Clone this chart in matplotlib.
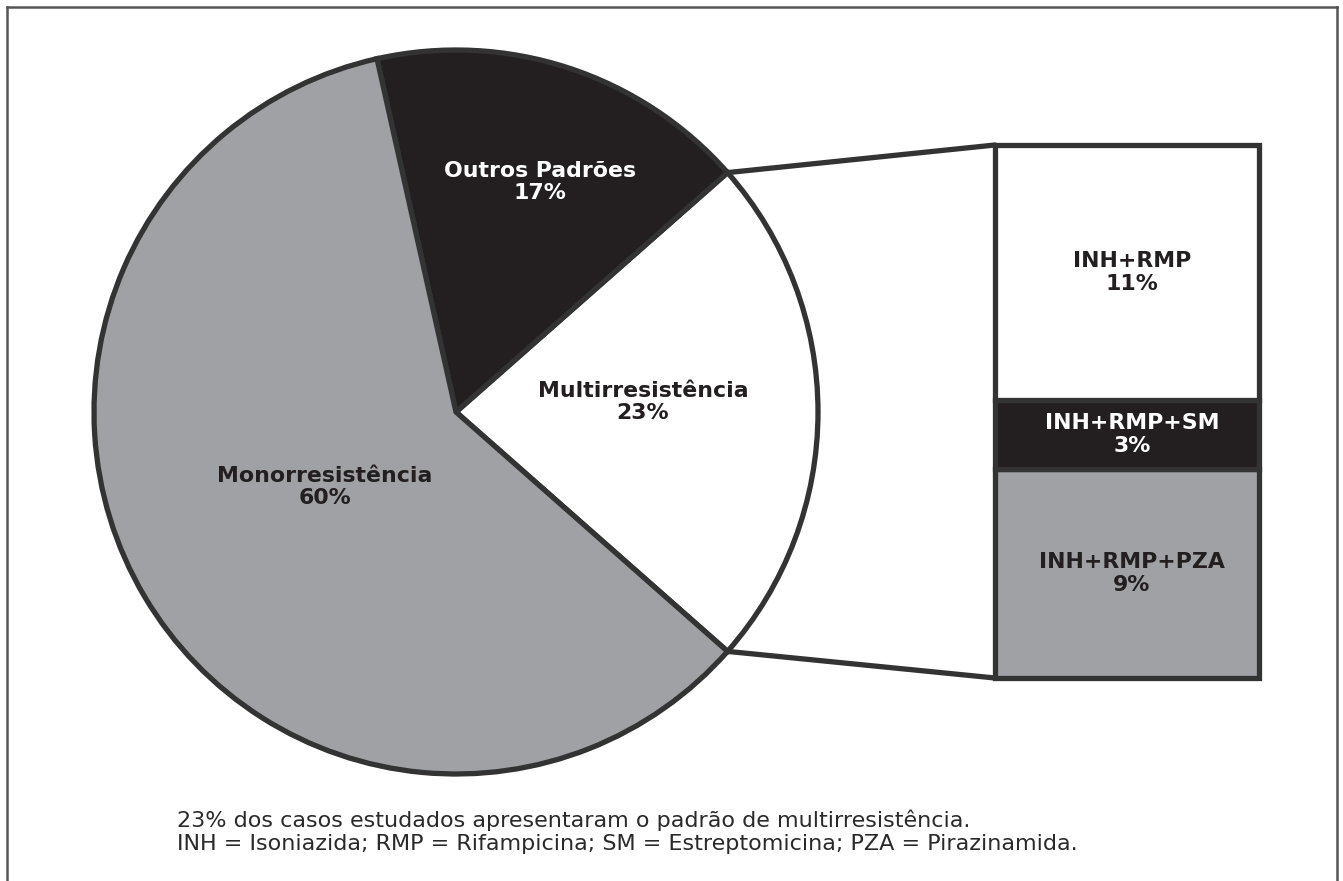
import numpy as np
import matplotlib
matplotlib.use("Agg")
import matplotlib.pyplot as plt

# dados do grafico de pizza
categorias = ["Multirresistência", "Outros Padrões", "Monorresistência"]
valores = [23, 17, 60]
cores_pizza = ["#ffffff", "#231f20", "#9fa1a4"]
cor_texto_pizza = ["#231f20", "#ffffff", "#231f20"]

# detalhamento da multirresistencia (de cima para baixo)
sub_categorias = ["INH+RMP", "INH+RMP+SM", "INH+RMP+PZA"]
sub_valores = [11, 3, 9]
sub_cores = ["#ffffff", "#231f20", "#9fa1a4"]
sub_cor_texto = ["#231f20", "#ffffff", "#231f20"]

legenda = ["23% dos casos estudados apresentaram o padrão de multirresistência.",
           "INH = Isoniazida; RMP = Rifampicina; SM = Estreptomicina; PZA = Pirazinamida."]

W, H = 1343, 881
borda = "#333333"
fonte_rotulo = dict(fontsize=15.8, fontweight="bold", family="DejaVu Sans", linespacing=1.17)

fig = plt.figure(figsize=(W / 100, H / 100), dpi=100)
ax = fig.add_axes([0, 0, 1, 1])

# pizza (coordenadas em pixels, y para cima)
cx, cy, raio = 456, H - 412, 362
inicio = -valores[0] / 100 * 360 / 2
wedges, _ = ax.pie(valores, colors=cores_pizza, startangle=inicio, counterclock=True,
                   center=(cx, cy), radius=raio, frame=True,
                   wedgeprops=dict(edgecolor=borda, linewidth=3.8, joinstyle="miter"))

# rotulos da pizza
pos_rotulos = [(643, 402), (540, 182), (325, 487)]
for cat, v, (px, py), c in zip(categorias, valores, pos_rotulos, cor_texto_pizza):
    ax.text(px, H - py, f"{cat}\n{v}%", ha="center", va="center", color=c, **fonte_rotulo)

# barra empilhada
bx0, bx1 = 995, 1259
topo, base = H - 145, H - 678
escala = (topo - base) / sum(sub_valores)
fundo = base
for cat, v, cor, ct in list(zip(sub_categorias, sub_valores, sub_cores, sub_cor_texto))[::-1]:
    ax.bar((bx0 + bx1) / 2, v * escala, width=bx1 - bx0, bottom=fundo, color=cor,
           edgecolor=borda, linewidth=3.8)
    ax.text((bx0 + bx1) / 2 + 5, fundo + v * escala / 2, f"{cat}\n{v}%", ha="center",
            va="center", color=ct, **fonte_rotulo)
    fundo += v * escala

# linhas de ligacao
w0 = wedges[0]
for ang, by in [(w0.theta2, topo), (w0.theta1, base)]:
    px = cx + raio * np.cos(np.radians(ang))
    py = cy + raio * np.sin(np.radians(ang))
    ax.plot([px, bx0], [py, by], color=borda, linewidth=3.8, solid_capstyle="round")

ax.set_xlim(0, W)
ax.set_ylim(0, H)
ax.set_aspect("equal")
ax.axis("off")

# moldura
for xs, ys in [([7, 7], [H, 7]), ([7, 1337], [7, 7]), ([1337, 1337], [7, H])]:
    ax.plot(xs, [H - y for y in ys], color="#555555", linewidth=1.8, clip_on=False)

# legenda de texto
for i, linha in enumerate(legenda):
    ax.text(177, H - 820 - i * 24, linha, ha="left", va="center", fontsize=16,
            color="#2a2a2a", family="DejaVu Sans")

fig.savefig("out.png", dpi=100)
